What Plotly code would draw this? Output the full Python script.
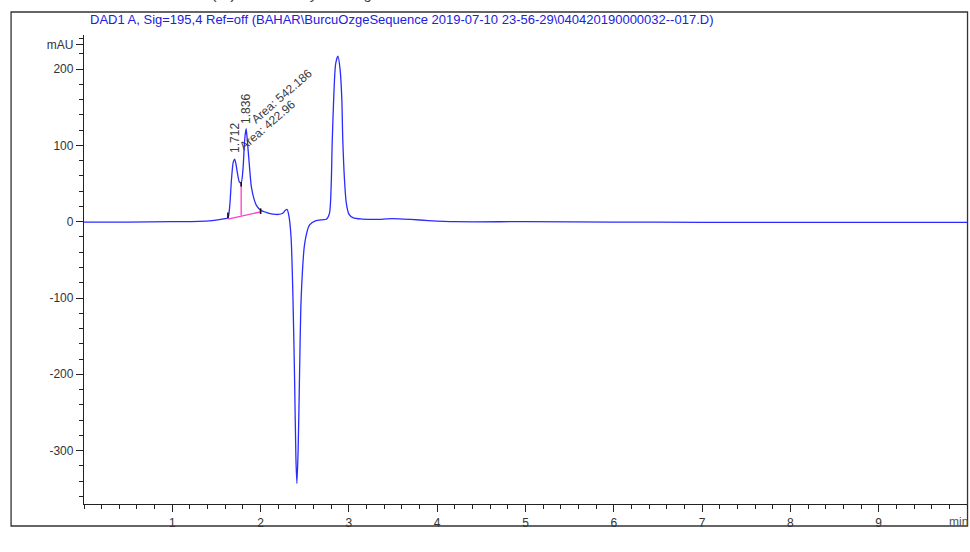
import plotly.graph_objects as go

# DAD1 A signal (retention time in min, absorbance in mAU)
time_min = [0.0, 0.5, 1.0, 1.3, 1.45, 1.55, 1.6, 1.63, 1.65, 1.67, 1.69, 1.706, 1.72, 1.74,
            1.76, 1.78, 1.80, 1.82, 1.836, 1.85, 1.87, 1.895, 1.93, 1.96, 2.0, 2.07, 2.14,
            2.2, 2.25, 2.28, 2.30, 2.32, 2.345, 2.366, 2.385, 2.40, 2.411, 2.425, 2.44,
            2.46, 2.50, 2.555, 2.62, 2.70, 2.744, 2.78, 2.80, 2.81, 2.83, 2.85, 2.876,
            2.90, 2.92, 2.93, 2.95, 2.97, 3.0, 3.05, 3.15, 3.3, 3.5, 3.7, 3.9, 4.2, 5.0,
            6.0, 7.0, 8.0, 9.0, 10.0]
signal_mau = [-0.5, -0.5, 0.0, 0.5, 1.5, 3.0, 4.0, 5.0, 20.0, 55.0, 78.0, 82.0, 76.0, 62.0,
              52.0, 51.0, 68.0, 108.0, 122.0, 106.0, 78.0, 46.0, 28.0, 20.0, 15.0, 12.0, 10.0,
              9.5, 11.0, 15.0, 16.0, 8.0, -20.0, -98.0, -207.0, -310.0, -343.0, -300.0, -207.0,
              -98.0, -28.0, -4.3, 1.0, 2.5, 3.1, 11.0, 50.0, 100.0, 168.0, 207.0, 217.0,
              200.0, 160.0, 110.0, 55.0, 25.0, 10.0, 5.0, 3.5, 3.0, 4.0, 3.0, 1.5, 0.0, 0.0,
              -0.5, -0.8, -1.0, -1.0, -1.0]

# Manual integration of the first two peaks
peak_times = [1.712, 1.836]
peak_areas = [422.96, 542.186]
baseline_t = [1.63, 2.0]
baseline_y = [3.5, 13.0]
split_t = 1.78
split_y = [8.0, 51.0]
marker_t = [1.63, 1.78, 2.0]
marker_lo = [4.5, 46.0, 10.0]
marker_hi = [12.0, 52.0, 17.5]

y_ticks = [-300, -200, -100, 0, 100, 200, 232]
y_labels = ["-300", "-200", "-100", "0", "100", "200", "mAU"]
x_ticks = [1, 2, 3, 4, 5, 6, 7, 8, 9]

TITLE = ("DAD1 A, Sig=195,4 Ref=off (BAHAR\\BurcuOzgeSequence 2019-07-10 "
         "23-56-29\\040420190000032--017.D)")
FONT = "Liberation Sans, Arial, sans-serif"

fig = go.Figure()

fig.add_trace(go.Scatter(
    x=time_min, y=signal_mau, mode="lines",
    line=dict(color="#2b2bff", width=1.3, shape="spline", smoothing=0.7),
    hoverinfo="skip", showlegend=False))

# integration baseline and peak split line
fig.add_trace(go.Scatter(
    x=baseline_t, y=baseline_y, mode="lines",
    line=dict(color="#ff3cc8", width=1.3), showlegend=False, hoverinfo="skip"))
fig.add_trace(go.Scatter(
    x=[split_t, split_t], y=split_y, mode="lines",
    line=dict(color="#ff3cc8", width=1.3), showlegend=False, hoverinfo="skip"))

# peak start / end ticks
for t, lo, hi in zip(marker_t, marker_lo, marker_hi):
    fig.add_trace(go.Scatter(
        x=[t, t], y=[lo, hi], mode="lines",
        line=dict(color="#111111", width=1.6), showlegend=False, hoverinfo="skip"))

label_font = dict(family=FONT, size=12, color="#3a3a3a")
# retention time labels (vertical)
rt_label_y = [110, 148]
for t, yy in zip(peak_times, rt_label_y):
    fig.add_annotation(x=t, y=yy, xref="x", yref="y", text=f"{t:.3f}",
                       textangle=-90, showarrow=False, font=label_font,
                       xanchor="center", yanchor="middle")
# area labels (diagonal)
area_label_pos = [(2.079, 126.7), (2.243, 164.7)]
for a, (ax_, ay_) in zip(peak_areas, area_label_pos):
    fig.add_annotation(x=ax_, y=ay_, xref="x", yref="y", text=f"Area: {a:g}",
                       textangle=-41, showarrow=False, font=label_font,
                       xanchor="center", yanchor="middle")

# header text
fig.add_annotation(x=0.004, y=1.032, xref="paper", yref="paper", text=TITLE,
                   showarrow=False, xanchor="left", yanchor="middle",
                   font=dict(family=FONT, size=13, color="#2020e0"))
fig.add_annotation(x=-0.084, y=1.0, xref="paper", yref="paper",
                   text="Additional Info : Peak(s) manually integrated",
                   showarrow=False, xanchor="left", yanchor="bottom", yshift=29,
                   font=dict(family="Liberation Mono, Courier New, monospace",
                             size=15, color="#444444"))
# x axis unit
fig.add_annotation(x=9.9, y=0, xref="x", yref="paper", text="min",
                   showarrow=False, xanchor="center", yanchor="top", yshift=-9,
                   font=dict(family=FONT, size=12, color="#555555"))

# outer frame
fig.add_shape(type="rect", xref="paper", yref="paper",
              x0=-0.0826, x1=1.0006, y0=-0.0469, y1=1.049,
              line=dict(color="#333333", width=1.3), layer="below")

fig.update_layout(
    width=970, height=552,
    margin=dict(l=84, r=3, t=35, b=48),
    paper_bgcolor="white", plot_bgcolor="white",
    font=dict(family=FONT, size=12, color="#333333"),
    xaxis=dict(range=[0, 10], tickvals=x_ticks, ticktext=[str(v) for v in x_ticks],
               ticks="outside", ticklen=7, tickwidth=1.2, tickcolor="#222222",
               showline=True, linecolor="#222222", linewidth=1.3,
               showgrid=False, zeroline=False,
               minor=dict(dtick=0.2, tick0=0, ticks="outside", ticklen=4,
                          tickwidth=1.2, tickcolor="#222222", showgrid=False),
               tickfont=dict(size=12, color="#333333")),
    yaxis=dict(range=[-370, 244.7], tickvals=y_ticks, ticktext=y_labels,
               ticks="outside", ticklen=7, tickwidth=1.2, tickcolor="#222222",
               showline=True, linecolor="#222222", linewidth=1.3,
               showgrid=False, zeroline=False,
               minor=dict(dtick=20, tick0=0, ticks="outside", ticklen=4,
                          tickwidth=1.2, tickcolor="#222222", showgrid=False),
               tickfont=dict(size=12, color="#333333")),
)

fig.write_html("out.html")
